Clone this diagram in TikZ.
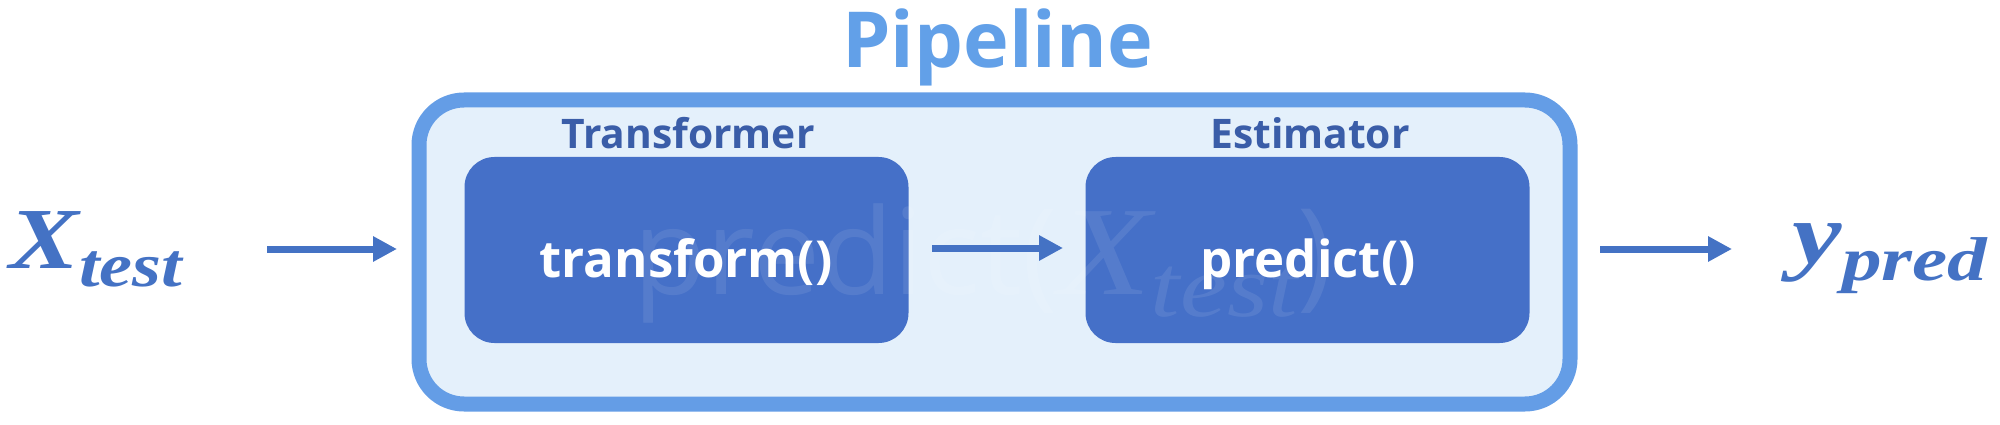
\documentclass[tikz,border=0pt]{standalone}
\usepackage{fontspec}
\setmainfont{Open Sans}
\newfontfamily\mathserif[FakeStretch=1.2]{Liberation Serif}
\newfontfamily\mathserifwide[FakeStretch=1.28]{Liberation Serif}
\usetikzlibrary{arrows.meta}
\definecolor{outerc}{RGB}{100,157,230}
\definecolor{outerfill}{RGB}{228,240,251}
\definecolor{innerc}{RGB}{69,112,200}
\definecolor{labc}{RGB}{58,93,168}
\definecolor{pipec}{RGB}{98,160,232}
\definecolor{arrc}{RGB}{68,114,196}
\tikzset{
  outerbox/.style={draw=outerc, line width=0.15cm, fill=outerfill, rounded corners=0.45cm, inner sep=0},
  innerbox/.style={fill=innerc, rounded corners=0.3cm, inner sep=0, minimum width=4.44cm, minimum height=1.86cm},
  boxlabel/.style={anchor=base, inner sep=0, text=labc, font=\bfseries\fontsize{11.6}{14}\selectfont},
  intext/.style={anchor=base, inner sep=0, text=white, font=\bfseries\fontsize{14.5}{16}\selectfont},
  arr/.style={draw=arrc, line width=0.07cm, -{Triangle[length=0.24cm,width=0.24cm]}},
  mathlab/.style={anchor=base west, inner sep=0, text=arrc}
}
\begin{document}
\begin{tikzpicture}
\useasboundingbox (0,0) rectangle (20,4.24);
\node[anchor=base, inner sep=0, text=pipec, font=\bfseries\fontsize{22}{24}\selectfont] (ttl) at (9.975,3.56) {Pipeline};
\node[outerbox, minimum width=11.51cm, minimum height=3.04cm] (pipe) at (9.945,1.72) {};
\node[innerbox] (tbox) at (6.865,1.74) {};
\node[innerbox] (ebox) at (13.075,1.74) {};
% faint overlay text
\node[anchor=base west, inner sep=0, text=white, opacity=0.09, font=\fontsize{34}{36}\selectfont] (wm) at (6.33,1.30)
  {predict({\mathserif\itshape\fontsize{36}{36}\selectfont X\lower0.22cm\hbox{\fontsize{25}{25}\selectfont test}})};
\node[boxlabel] (tlab) at (6.88,2.76) {Transformer};
\node[boxlabel] (elab) at (13.10,2.76) {Estimator};
\node[intext] (ttxt) at (6.86,1.47) {transform()};
\node[intext] (etxt) at (13.08,1.47) {predict()};
\node[mathlab] (xt) at (0.09,1.56) {\mathserif\bfseries\itshape\fontsize{24.75}{26}\selectfont X\lower0.18cm\hbox{\fontsize{17.6}{18}\selectfont test}};
\node[mathlab] (yp) at (17.92,1.61) {\mathserifwide\bfseries\itshape\fontsize{24.75}{26}\selectfont y\lower0.17cm\hbox{\fontsize{17.6}{18}\selectfont pred}};
\coordinate (a1s) at (2.67,1.75);
\coordinate (a1e) at (3.97,1.75);
\coordinate (a2s) at (9.32,1.76);
\coordinate (a2e) at (10.63,1.76);
\coordinate (a3s) at (16.00,1.75);
\coordinate (a3e) at (17.32,1.75);
\draw[arr] (a1s) -- (a1e);
\draw[arr] (a2s) -- (a2e);
\draw[arr] (a3s) -- (a3e);
\end{tikzpicture}
\end{document}
